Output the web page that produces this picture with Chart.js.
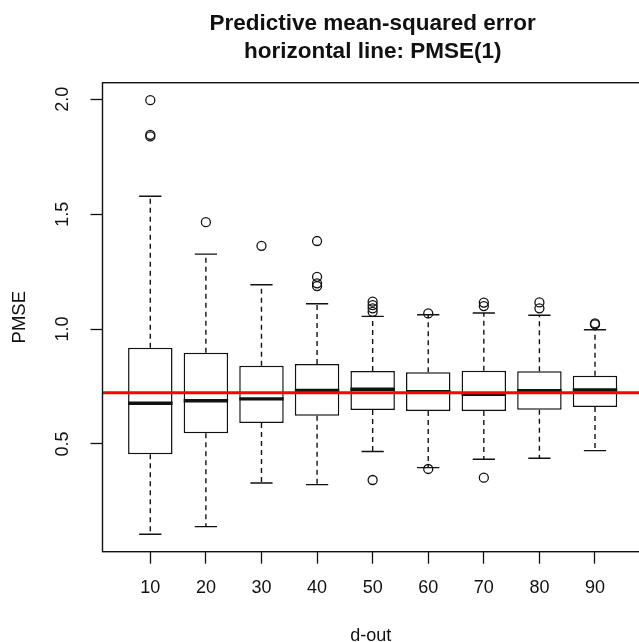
<!DOCTYPE html>
<html>
<head>
<meta charset="utf-8">
<script src="https://cdn.jsdelivr.net/npm/chart.js@4/dist/chart.umd.min.js"></script>
<style>
  html, body { margin: 0; padding: 0; background: #fff; }
  #wrap { width: 639px; height: 642px; overflow: hidden; }
</style>
</head>
<body>
<div id="wrap"><canvas id="pmseChart" width="660" height="642"></canvas></div>
<script>
// d-out groups and box statistics of the PMSE per group
const dOut = [10, 20, 30, 40, 50, 60, 70, 80, 90];
const whiskerLow  = [0.107, 0.140, 0.330, 0.323, 0.467, 0.397, 0.433, 0.438, 0.471];
const q1          = [0.455, 0.546, 0.591, 0.623, 0.648, 0.643, 0.643, 0.649, 0.661];
const median      = [0.677, 0.688, 0.696, 0.733, 0.738, 0.727, 0.716, 0.732, 0.735];
const q3          = [0.919, 0.897, 0.840, 0.848, 0.817, 0.812, 0.819, 0.816, 0.797];
const whiskerHigh = [1.578, 1.326, 1.193, 1.110, 1.055, 1.062, 1.070, 1.060, 0.997];
const outliers = [
  [1.996, 1.845, 1.838],
  [1.465],
  [1.362],
  [1.383, 1.227, 1.199, 1.187],
  [1.119, 1.104, 1.090, 1.075, 0.343],
  [1.068, 0.391],
  [1.115, 1.100, 0.353],
  [1.116, 1.090],
  [1.025, 1.020]
];
const pmse1 = 0.723;   // reference level PMSE(1)
const yTicks = [0.5, 1.0, 1.5, 2.0];

const INK = "#111111";
const FONT = "'Liberation Sans', Arial, Helvetica, sans-serif";

// whiskers, medians, the PMSE(1) line, frame and the R-style titles
const boxExtras = {
  id: "boxExtras",
  afterDatasetsDraw(chart) {
    const ctx = chart.ctx;
    const y = chart.scales.y;
    const area = chart.chartArea;
    const bars = chart.getDatasetMeta(0).data;
    ctx.save();
    ctx.strokeStyle = INK;
    bars.forEach((bar, i) => {
      const half = bar.width / 2;
      const yHi = y.getPixelForValue(whiskerHigh[i]);
      const yLo = y.getPixelForValue(whiskerLow[i]);
      // dashed whiskers
      ctx.lineWidth = 1.4;
      ctx.setLineDash([5, 4]);
      ctx.beginPath();
      ctx.moveTo(bar.x, y.getPixelForValue(q3[i]));
      ctx.lineTo(bar.x, yHi);
      ctx.moveTo(bar.x, y.getPixelForValue(q1[i]));
      ctx.lineTo(bar.x, yLo);
      ctx.stroke();
      // caps
      ctx.setLineDash([]);
      ctx.beginPath();
      ctx.moveTo(bar.x - half / 2, yHi);
      ctx.lineTo(bar.x + half / 2, yHi);
      ctx.moveTo(bar.x - half / 2, yLo);
      ctx.lineTo(bar.x + half / 2, yLo);
      ctx.stroke();
      // median
      const yMed = y.getPixelForValue(median[i]);
      ctx.lineWidth = 3.4;
      ctx.beginPath();
      ctx.moveTo(bar.x - half, yMed);
      ctx.lineTo(bar.x + half, yMed);
      ctx.stroke();
    });
    // horizontal line at PMSE(1)
    const yRef = y.getPixelForValue(pmse1);
    ctx.strokeStyle = "#ff0000";
    ctx.lineWidth = 3;
    ctx.beginPath();
    ctx.moveTo(area.left, yRef);
    ctx.lineTo(area.right, yRef);
    ctx.stroke();
    ctx.restore();
  },
  afterDraw(chart) {
    const ctx = chart.ctx;
    const area = chart.chartArea;
    const cx = (area.left + area.right) / 2;
    ctx.save();
    ctx.strokeStyle = INK;
    ctx.lineWidth = 1.4;
    ctx.strokeRect(area.left, area.top, area.right - area.left, area.bottom - area.top);

    ctx.fillStyle = INK;
    ctx.textAlign = "center";
    ctx.textBaseline = "alphabetic";
    ctx.font = "bold 22.5px " + FONT;
    ctx.fillText("Predictive mean-squared error", cx, 30);
    ctx.fillText("horizontal line: PMSE(1)", cx, 58);

    ctx.font = "18px " + FONT;
    ctx.fillText("d-out", cx - 2, 641);

    ctx.translate(20, (area.top + area.bottom) / 2);
    ctx.rotate(-Math.PI / 2);
    ctx.textBaseline = "middle";
    ctx.font = "18.5px " + FONT;
    ctx.fillText("PMSE", 0, 0);
    ctx.restore();
  }
};

new Chart(document.getElementById("pmseChart"), {
  type: "bar",
  data: {
    datasets: [{
      type: "bar",
      data: dOut.map((d, i) => ({ x: d, y: [q1[i], q3[i]] })),
      backgroundColor: "#ffffff",
      borderColor: INK,
      borderWidth: 1.5,
      borderSkipped: false,
      barPercentage: 0.8,
      categoryPercentage: 1.0
    }, {
      type: "scatter",
      data: outliers.flatMap((vals, i) => vals.map(v => ({ x: dOut[i], y: v }))),
      pointStyle: "circle",
      pointRadius: 4.5,
      pointBorderWidth: 1.3,
      pointBorderColor: INK,
      pointBackgroundColor: "rgba(0,0,0,0)"
    }]
  },
  options: {
    responsive: false,
    animation: false,
    events: [],
    layout: { padding: { left: 0, top: 82.7, right: 17.2, bottom: 0 } },
    plugins: { legend: { display: false }, tooltip: { enabled: false }, title: { display: false } },
    scales: {
      x: {
        type: "linear",
        min: 1.4,
        max: 98.6,
        offset: false,
        afterBuildTicks: s => { s.ticks = dOut.map(v => ({ value: v })); },
        afterFit: s => { s.height = 90.3; },
        border: { display: false },
        grid: { drawOnChartArea: false, drawTicks: true, tickLength: 12, tickColor: INK, tickWidth: 1.3, offset: false },
        ticks: { color: INK, font: { family: FONT, size: 18 }, padding: 14, maxRotation: 0, autoSkip: false,
                 callback: v => String(v) }
      },
      y: {
        type: "linear",
        min: 0.031,
        max: 2.072,
        afterBuildTicks: s => { s.ticks = yTicks.map(v => ({ value: v })); },
        afterFit: s => { s.width = 102.5; },
        border: { display: false },
        grid: { drawOnChartArea: false, drawTicks: true, tickLength: 12, tickColor: INK, tickWidth: 1.3 },
        ticks: { color: INK, font: { family: FONT, size: 18 }, padding: 15, minRotation: 90, maxRotation: 90,
                 crossAlign: "center", autoSkip: false, callback: v => v.toFixed(1) }
      }
    }
  },
  plugins: [boxExtras]
});
</script>
</body>
</html>
